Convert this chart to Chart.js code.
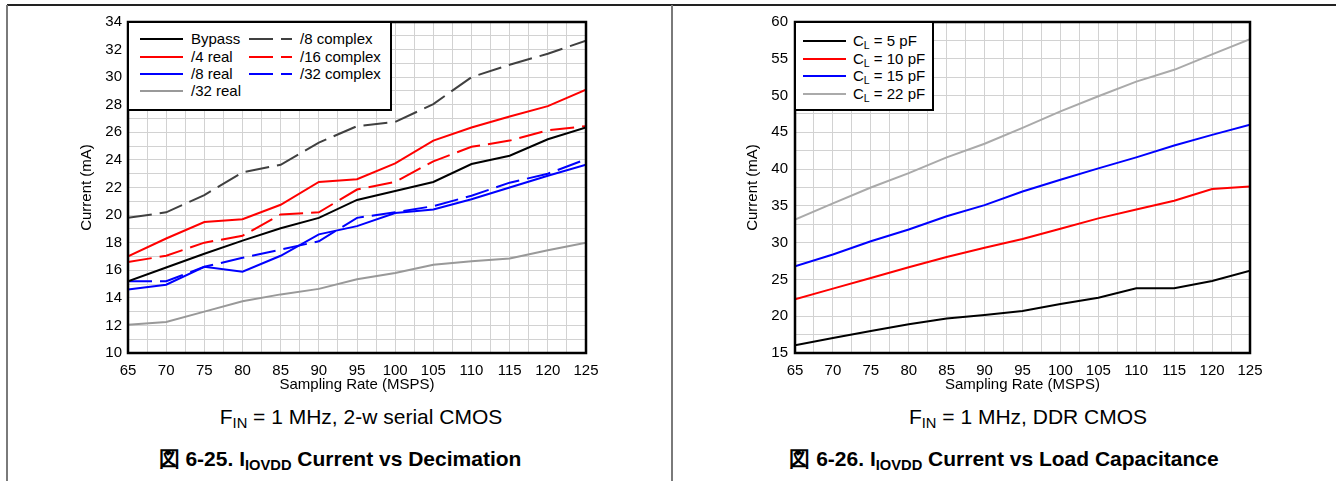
<!DOCTYPE html>
<html>
<head>
<meta charset="utf-8">
<script src="https://cdn.jsdelivr.net/npm/chart.js@4.4.1/dist/chart.umd.min.js"></script>
<style>
  html, body { margin:0; padding:0; background:#fff; }
  body { width:1336px; height:481px; position:relative; overflow:hidden; font-family:"Liberation Sans", Arial, sans-serif; color:#000; }
  .abs { position:absolute; }
  .frameTop { left:7px; top:4px; width:1329px; height:2px; background:#222; }
  .vline { top:5px; width:2px; height:476px; background:#7a7a7a; }
  .legend { position:absolute; background:#fff; border:2px solid #000; box-sizing:border-box; font-size:15px; }
  .lrow { position:absolute; height:18px; line-height:18px; white-space:nowrap; }
  .lrow svg { position:absolute; left:0; top:0; }
  .lrow span { position:absolute; top:0; }
  .cap { position:absolute; text-align:center; white-space:nowrap; font-size:21px; line-height:24px; }
  .ttl { position:absolute; text-align:center; white-space:nowrap; font-size:21px; font-weight:bold; line-height:24px; }
  sub { font-size:70%; vertical-align:-0.3em; line-height:0; }
</style>
</head>
<body>
<div class="abs frameTop"></div>
<div class="abs vline" style="left:6px"></div>
<div class="abs vline" style="left:671px"></div>

<canvas id="c1" class="abs" style="left:0;top:0" width="670" height="394"></canvas>
<canvas id="c2" class="abs" style="left:670px;top:0" width="666" height="394"></canvas>

<div id="leg1" class="legend" style="left:127px;top:21px;width:265px;height:90px;"></div>
<div id="leg2" class="legend" style="left:794px;top:21px;width:140px;height:90px;"></div>

<div class="cap" style="left:61px;width:600px;top:405px;">F<sub>IN</sub> = 1 MHz, 2-w serial CMOS</div>
<div class="ttl" style="left:40px;width:600px;top:447px;">図 6-25. I<sub>IOVDD</sub> Current vs Decimation</div>
<div class="cap" style="left:728px;width:600px;top:405px;">F<sub>IN</sub> = 1 MHz, DDR CMOS</div>
<div class="ttl" style="left:704px;width:600px;top:447px;">図 6-26. I<sub>IOVDD</sub> Current vs Load Capacitance</div>

<script>
// ---- Data ----
const rates = [65, 70, 75, 80, 85, 90, 95, 100, 105, 110, 115, 120, 125];

// Figure 6-25 (decimation)
const bypass   = [15.2, 16.2, 17.2, 18.15, 19.05, 19.8, 21.1, 21.75, 22.4, 23.7, 24.3, 25.5, 26.35];
const real4    = [17.0, 18.3, 19.5, 19.7, 20.75, 22.4, 22.6, 23.75, 25.4, 26.35, 27.15, 27.9, 29.1];
const real8    = [14.6, 14.95, 16.25, 15.9, 17.05, 18.6, 19.2, 20.15, 20.4, 21.15, 22.0, 22.85, 23.65];
const real32   = [12.05, 12.25, 13.0, 13.75, 14.25, 14.65, 15.35, 15.8, 16.4, 16.65, 16.85, 17.45, 18.0];
const complex8 = [19.8, 20.2, 21.45, 23.1, 23.65, 25.25, 26.45, 26.75, 28.05, 30.0, 30.9, 31.7, 32.65];
const complex16= [16.6, 17.05, 18.0, 18.5, 20.05, 20.2, 21.85, 22.4, 23.9, 24.95, 25.4, 26.15, 26.45];
const complex32= [15.2, 15.2, 16.25, 16.9, 17.5, 18.1, 19.8, 20.2, 20.65, 21.4, 22.35, 23.0, 24.05];

// Figure 6-26 (load capacitance)
const cl5  = [16.05, 17.05, 18.0, 18.9, 19.7, 20.15, 20.7, 21.65, 22.5, 23.8, 23.8, 24.8, 26.2];
const cl10 = [22.3, 23.75, 25.2, 26.65, 28.05, 29.3, 30.5, 31.9, 33.3, 34.5, 35.7, 37.3, 37.65];
const cl15 = [26.8, 28.4, 30.2, 31.8, 33.6, 35.1, 36.95, 38.55, 40.1, 41.6, 43.2, 44.65, 46.05];
const cl22 = [33.15, 35.35, 37.5, 39.45, 41.6, 43.45, 45.6, 47.85, 49.9, 51.9, 53.5, 55.6, 57.65];

const seriesLeft = [
  { label: 'Bypass',      data: bypass,    color: '#000000', dash: [] },
  { label: '/4 real',     data: real4,     color: '#ff0000', dash: [] },
  { label: '/8 real',     data: real8,     color: '#0000ff', dash: [] },
  { label: '/32 real',    data: real32,    color: '#999999', dash: [] },
  { label: '/8 complex',  data: complex8,  color: '#404040', dash: [24, 8] },
  { label: '/16 complex', data: complex16, color: '#ff0000', dash: [24, 8] },
  { label: '/32 complex', data: complex32, color: '#0000ff', dash: [24, 8] }
];
const seriesRight = [
  { label: 'C<sub>L</sub> = 5 pF',  data: cl5,  color: '#000000', dash: [] },
  { label: 'C<sub>L</sub> = 10 pF', data: cl10, color: '#ff0000', dash: [] },
  { label: 'C<sub>L</sub> = 15 pF', data: cl15, color: '#0000ff', dash: [] },
  { label: 'C<sub>L</sub> = 22 pF', data: cl22, color: '#aaaaaa', dash: [] }
];

const FONT = { family: '"Liberation Sans", Arial, sans-serif', size: 15 };
const GRID = '#d2d2d2';

const frame = {
  id: 'frame',
  afterDraw(chart) {
    const { ctx, chartArea: a } = chart;
    ctx.save();
    ctx.strokeStyle = '#000';
    ctx.lineWidth = 2.5;
    ctx.strokeRect(a.left, a.top, a.right - a.left, a.bottom - a.top);
    ctx.restore();
  }
};

function makeChart(id, series, yMin, yMax, yGridStep, yLabelStep, pad, yWidth, yTickPad) {
  const datasets = series.map(s => ({
    label: s.label.replace(/<[^>]+>/g, ''),
    data: rates.map((r, i) => ({ x: r, y: s.data[i] })),
    borderColor: s.color,
    borderDash: s.dash,
    borderWidth: 2,
    pointRadius: 0,
    tension: 0,
    fill: false
  }));
  return new Chart(document.getElementById(id), {
    type: 'line',
    data: { datasets },
    plugins: [frame],
    options: {
      responsive: false,
      animation: false,
      events: [],
      layout: { padding: pad },
      plugins: { legend: { display: false }, tooltip: { enabled: false } },
      scales: {
        x: {
          type: 'linear', min: 65, max: 125,
          afterBuildTicks(scale) {
            const t = [];
            for (let v = 65; v <= 125; v += 2.5) t.push({ value: v });
            scale.ticks = t;
          },
          grid: { color: GRID, lineWidth: 1, drawTicks: false },
          border: { display: false },
          ticks: {
            autoSkip: false, maxRotation: 0, padding: 9, color: '#000', font: FONT,
            callback: v => (v % 5 === 0 ? String(v) : '')
          },
          title: { display: true, text: 'Sampling Rate (MSPS)', color: '#000', font: FONT, padding: { top: 0, bottom: 0 } },
          afterFit(scale) { scale.height = 394 - 353; }
        },
        y: {
          min: yMin, max: yMax,
          afterBuildTicks(scale) {
            const t = [];
            for (let v = yMin; v <= yMax + 1e-9; v += yGridStep) t.push({ value: v });
            scale.ticks = t;
          },
          grid: { color: GRID, lineWidth: 1, drawTicks: false },
          border: { display: false },
          ticks: {
            autoSkip: false, padding: yTickPad, color: '#000', font: FONT,
            callback: v => (Math.abs((v - yMin) % yLabelStep) < 1e-9 ? String(v) : '')
          },
          title: { display: true, text: 'Current (mA)', color: '#000', font: FONT, padding: { top: 0, bottom: 0 } },
          afterFit(scale) { scale.width = yWidth; }
        }
      }
    }
  });
}

makeChart('c1', seriesLeft, 10, 34, 1, 2, { left: 78, top: 22, right: 84, bottom: 0 }, 50, 6);
makeChart('c2', seriesRight, 15, 60, 2.5, 5, { left: 74, top: 22, right: 86, bottom: 0 }, 51, 7);

// ---- HTML legends (using the same series styles) ----
function legendRow(container, s, x, y, lineX0, lineX1, textX) {
  const row = document.createElement('div');
  row.className = 'lrow';
  row.style.left = x + 'px';
  row.style.top = (y - 9) + 'px';
  const w = lineX1 - lineX0;
  row.innerHTML =
    '<svg width="' + (w + 2) + '" height="18" style="left:' + lineX0 + 'px">' +
    '<line x1="0" y1="9" x2="' + w + '" y2="9" stroke="' + s.color + '" stroke-width="2"' +
    (s.dash.length ? ' stroke-dasharray="' + s.dash.join(' ') + '"' : '') + '/></svg>' +
    '<span style="left:' + textX + 'px">' + s.label + '</span>';
  container.appendChild(row);
}
const leg1 = document.getElementById('leg1');
const rowsY1 = [16, 33.5, 50.5, 68];
[0, 1, 2, 3].forEach((k, i) => legendRow(leg1, seriesLeft[k], 0, rowsY1[i], 11, 54, 62));
[4, 5, 6].forEach((k, i) => legendRow(leg1, seriesLeft[k], 0, rowsY1[i], 120, 163, 171));

const leg2 = document.getElementById('leg2');
const rowsY2 = [18, 35.5, 53, 70.5];
seriesRight.forEach((s, i) => legendRow(leg2, s, 0, rowsY2[i], 7, 50, 57));
</script>
</body>
</html>
